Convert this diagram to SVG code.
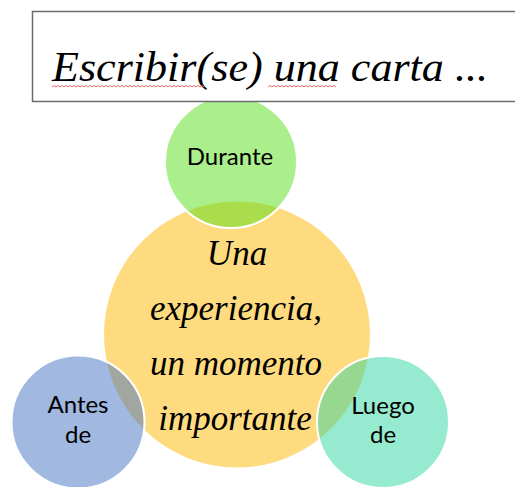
<svg xmlns="http://www.w3.org/2000/svg" width="515" height="487" viewBox="0 0 515 487">
<style>
.c{stroke:#ffffff;stroke-width:2;fill-opacity:0.5}
.lbl{font-family:Lato,"Open Sans","Liberation Sans",sans-serif;font-size:24px;fill:#000;text-anchor:middle}
.scr{font-family:"Liberation Serif","DejaVu Serif",serif;font-style:italic;fill:#000;text-anchor:middle}
.sq{fill:none;stroke:#f26b6b;stroke-width:1}
</style>
<rect width="515" height="487" fill="#ffffff"/>
<g id="yellow"><circle class="c" cx="237" cy="334.5" r="134" fill="#FFB800"/></g>
<g id="durante"><circle class="c" cx="231" cy="162" r="66" fill="#55E018"/><text class="lbl" x="230" y="165">Durante</text></g>
<g id="antes"><circle class="c" cx="78" cy="422" r="66.5" fill="#4472C4"/><text class="lbl" x="78" y="413">Antes</text><text class="lbl" x="78" y="443">de</text></g>
<g id="luego"><circle class="c" cx="383" cy="422" r="66" fill="#2DD59F"/><text class="lbl" x="383" y="414">Luego</text><text class="lbl" x="383" y="443">de</text></g>
<g id="center-text">
<text class="scr" font-size="35" x="237" y="265">Una</text>
<text class="scr" font-size="35" x="236" y="320">experiencia,</text>
<text class="scr" font-size="35" x="236" y="375">un momento</text>
<text class="scr" font-size="35" x="235" y="430">importante</text>
</g>
<g id="title">
<rect x="32.5" y="11.5" width="490" height="90" fill="#ffffff" stroke="#6b6b6b" stroke-width="1.5"/>
<text class="scr" font-size="42" x="270" y="81" textLength="436" lengthAdjust="spacingAndGlyphs">Escribir(se) una carta ...</text>
<path class="sq" d="M52 87 l2 -1.5 l2 1.5 l2 -1.5 l2 1.5 l2 -1.5 l2 1.5 l2 -1.5 l2 1.5 l2 -1.5 l2 1.5 l2 -1.5 l2 1.5 l2 -1.5 l2 1.5 l2 -1.5 l2 1.5 l2 -1.5 l2 1.5 l2 -1.5 l2 1.5 l2 -1.5 l2 1.5 l2 -1.5 l2 1.5 l2 -1.5 l2 1.5 l2 -1.5 l2 1.5 l2 -1.5 l2 1.5 l2 -1.5 l2 1.5 l2 -1.5 l2 1.5 l2 -1.5 l2 1.5 l2 -1.5 l2 1.5 l2 -1.5 l2 1.5 l2 -1.5 l2 1.5 l2 -1.5 l2 1.5 l2 -1.5 l2 1.5 l2 -1.5 l2 1.5 l2 -1.5 l2 1.5 l2 -1.5 l2 1.5 l2 -1.5 l2 1.5 l2 -1.5 l2 1.5 l2 -1.5 l2 1.5 l2 -1.5 l2 1.5 l2 -1.5 l2 1.5 l2 -1.5 l2 1.5 l2 -1.5 l2 1.5 l2 -1.5 l2 1.5 l2 -1.5 l2 1.5 l2 -1.5 l2 1.5 l2 -1.5 l2 1.5 l2 -1.5 l2 1.5"/>
<path class="sq" d="M268 87 l2 -1.5 l2 1.5 l2 -1.5 l2 1.5 l2 -1.5 l2 1.5 l2 -1.5 l2 1.5 l2 -1.5 l2 1.5 l2 -1.5 l2 1.5 l2 -1.5 l2 1.5 l2 -1.5 l2 1.5 l2 -1.5 l2 1.5 l2 -1.5 l2 1.5 l2 -1.5 l2 1.5 l2 -1.5 l2 1.5 l2 -1.5 l2 1.5 l2 -1.5 l2 1.5 l2 -1.5 l2 1.5 l2 -1.5 l2 1.5 l2 -1.5 l2 1.5"/>
</g>
</svg>
